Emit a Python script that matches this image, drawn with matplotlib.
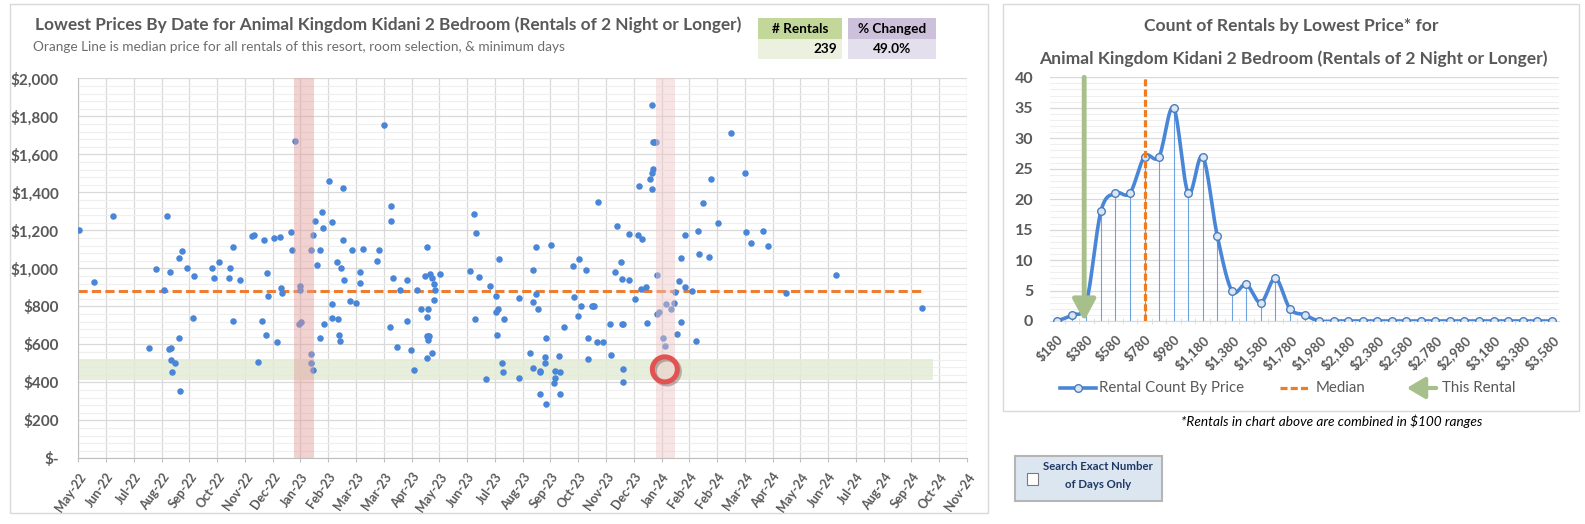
import numpy as np
import matplotlib
matplotlib.use("Agg")
import matplotlib.pyplot as plt
import matplotlib.patheffects as pe
from matplotlib.patches import Rectangle, FancyArrowPatch
from matplotlib.lines import Line2D
from matplotlib.ticker import MultipleLocator, FixedLocator, FuncFormatter

plt.rcParams['font.family'] = ['Lato', 'DejaVu Sans']

# ---------------- data ----------------
month_labels = ['May-22', 'Jun-22', 'Jul-22', 'Aug-22', 'Sep-22', 'Oct-22', 'Nov-22', 'Dec-22',
                'Jan-23', 'Feb-23', 'Mar-23', 'Mar-23', 'Apr-23', 'May-23', 'Jun-23', 'Jul-23',
                'Aug-23', 'Sep-23', 'Oct-23', 'Nov-23', 'Dec-23', 'Jan-24', 'Feb-24', 'Feb-24',
                'Mar-24', 'Apr-24', 'May-24', 'Jun-24', 'Jul-24', 'Aug-24', 'Sep-24', 'Oct-24',
                'Nov-24']

# rental date (in axis month steps from May-22) and lowest price
rental_month = [0.02, 0.58, 1.26, 2.55, 2.81, 3.09, 3.20, 3.31, 3.27, 3.32, 3.35, 3.49, 3.38, 3.67,
                3.63, 3.74, 3.63, 3.92, 4.14, 4.18, 4.82, 4.89, 5.07, 5.43, 5.47, 5.58, 5.58, 5.83,
                6.26, 6.31, 6.47, 6.62, 6.69, 6.76, 6.80, 6.83, 7.05, 7.16, 7.27, 7.30, 7.35, 7.66,
                7.70, 7.81, 7.99, 7.99, 7.95, 8.03, 8.38, 8.38, 8.38, 8.45, 8.45, 8.52, 8.60, 8.71,
                8.71, 8.78, 8.81, 8.85, 9.03, 9.14, 9.14, 9.14, 9.32, 9.35, 9.39, 9.42, 9.46, 9.53,
                9.53, 9.57, 9.78, 9.86, 10.00, 10.14, 10.14, 10.25, 10.76, 10.83, 11.01, 11.22,
                11.26, 11.26, 11.33, 11.47, 11.58, 11.83, 11.83, 11.98, 12.08, 12.19, 12.34, 12.48,
                12.55, 12.55, 12.55, 12.59, 12.59, 12.62, 12.59, 12.55, 12.66, 12.73, 12.73, 12.81,
                12.84, 12.81, 13.02, 14.10, 14.24, 14.32, 14.28, 14.42, 14.68, 14.82, 15.04, 15.07,
                15.04, 15.11, 15.14,
                15.25, 15.29, 15.33, 15.87, 15.87, 16.26, 16.37, 16.38, 16.37, 16.47, 16.47, 16.54,
                16.62, 16.63, 16.62, 16.80, 16.80, 16.84, 16.84, 17.02, 17.13, 17.16, 17.16, 17.30,
                17.34, 17.34, 17.48, 17.81, 17.84, 17.98, 18.02, 18.09, 18.27, 18.34, 18.34, 18.48,
                18.52, 18.56, 18.67, 18.71, 18.89, 19.14, 19.17, 19.32, 19.39, 19.53, 19.57, 19.57,
                19.60, 19.60, 19.60, 19.82, 19.82, 20.04, 20.14, 20.18, 20.25, 20.29, 20.43, 20.47,
                20.57, 20.65, 20.65, 20.68, 20.65, 20.68, 20.72, 20.79, 20.83, 20.83, 20.90, 21.05,
                21.12, 21.15, 21.33, 21.44, 21.47, 21.55, 21.62, 21.69, 21.69, 21.84, 21.84, 22.09,
                22.23, 22.30, 22.34, 22.48, 22.70, 22.77, 23.02, 23.49, 23.99, 24.06, 24.24, 24.64,
                24.82, 25.50, 27.27, 30.39]
rental_price = [1200, 926, 1274, 579, 995, 884, 1274, 979, 575, 579, 516, 500, 453, 353,
                1053, 1089, 632, 1000, 737, 958, 1000, 947, 1032, 947, 1000, 1111, 721, 937,
                1168, 1174, 505, 721, 1147, 647, 974, 853, 1158, 611, 1163, 895, 868, 1189,
                1095, 1668, 905, 884, 705, 716, 1095, 547, 500, 463, 1174, 1247, 1016, 1095,
                632, 1295, 1211, 705, 1458, 1242, 810, 737, 1032, 732, 647, 616, 1000, 1421,
                1147, 937, 826, 1095, 816, 979, 921, 1100, 1037, 1095, 1753, 689,
                1326, 1247, 947, 584, 884, 937, 721, 568, 463, 884, 784, 958,
                1111, 742, 642, 784, 642, 642, 621, 526, 968, 947, 553, 916,
                884, 832, 968, 984, 1284, 1184, 732, 953, 416, 905, 853, 647,
                768, 784, 1047,
                500, 453, 732, 842, 421, 553, 989, 474, 821, 1111, 863, 784,
                458, 453, 337, 532, 500, 632, 284, 1121, 395, 458, 421, 537,
                453, 337, 689, 1011, 847, 747, 1047, 800, 989, 632, 521, 800,
                800, 800, 611, 1347, 611, 705, 542, 979, 1221, 1032, 942, 705,
                705, 468, 400, 1179, 937, 837, 1174, 1432, 889, 1153, 900, 711,
                1468, 1858, 1500, 1521, 1416, 1663, 1663, 1663, 963, 758, 768, 632,
                589, 811, 784, 816, 874, 653, 932, 1053, 716, 900, 1174, 879,
                616, 1195, 1074, 1342, 1058, 1468, 1237, 1711, 1500, 1189, 1132, 1195,
                1116, 868, 963, 789]

median_price = 878
median_end_month = 30.46
this_rental_month = 21.12
this_rental_price = 468
low_band = (412, 521)
low_band_end_month = 30.78
highlight_spans = [(7.76, 8.47), (20.79, 21.49)]

n_rentals = '239'
pct_changed = '49.0%'

price_buckets = ['$180', '$280', '$380', '$480', '$580', '$680', '$780', '$880', '$980',
                 '$1,080', '$1,180', '$1,280', '$1,380', '$1,480', '$1,580', '$1,680',
                 '$1,780', '$1,880', '$1,980', '$2,080', '$2,180', '$2,280', '$2,380',
                 '$2,480', '$2,580', '$2,680', '$2,780', '$2,880', '$2,980', '$3,080',
                 '$3,180', '$3,280', '$3,380', '$3,480', '$3,580']
bucket_counts = [0, 1, 3, 18, 21, 21, 27, 27, 35, 21, 27, 14, 5, 6, 3, 7, 2, 1,
                 0, 0, 0, 0, 0, 0, 0, 0, 0, 0, 0, 0, 0, 0, 0, 0, 0]
median_bucket = 6
this_rental_bucket = 1.85

# ---------------- style ----------------
GREY = '#595959'
GRID = '#d9d9d9'
MINOR = '#efefef'
BLUE = '#4a86d8'
ORANGE = '#ED7D31'
GREEN = '#a7bf8a'

W, H = 1585, 524
fig = plt.figure(figsize=(W / 100, H / 100), dpi=100)


def fx(px):
    return px / W


def fy(py):
    return 1 - py / H


def frame(x0, y0, x1, y1, **kw):
    fig.add_artist(Rectangle((fx(x0), fy(y1)), fx(x1) - fx(x0), fy(y0) - fy(y1),
                             transform=fig.transFigure, **kw))


# panel frames
frame(10, 4, 988, 513, fill=False, ec=GRID, lw=1)
frame(1003, 4, 1579, 411, fill=False, ec=GRID, lw=1)

# ---------------- left chart ----------------
fig.text(fx(35), fy(25), 'Lowest Prices By Date for Animal Kingdom Kidani 2 Bedroom (Rentals of 2 Night or Longer)',
         fontsize=12.4, fontweight='bold', color=GREY, va='center')
fig.text(fx(33), fy(47), 'Orange Line is median price for all rentals of this resort, room selection, & minimum days',
         fontsize=9.8, color='#6d6d6d', va='center')

# summary boxes
frame(758, 18, 842, 39, color='#c4d79b', lw=0)
frame(758, 39, 842, 59, color='#ebf1de', lw=0)
frame(848, 18, 936, 39, color='#ccc0da', lw=0)
frame(848, 39, 936, 59, color='#e4dfec', lw=0)
fig.text(fx(800), fy(29), '# Rentals', ha='center', va='center', fontsize=9.8, fontweight='bold', color='black')
fig.text(fx(837), fy(49), n_rentals, ha='right', va='center', fontsize=9.8, fontweight='bold', color='black')
fig.text(fx(892), fy(29), '% Changed', ha='center', va='center', fontsize=9.8, fontweight='bold', color='black')
fig.text(fx(892), fy(49), pct_changed, ha='center', va='center', fontsize=9.8, fontweight='bold', color='black')

ax1 = fig.add_axes([fx(78.3), fy(458.3), fx(967) - fx(78.3), fy(78.3) - fy(458.3)])
ax1.set_xlim(0, 32)
ax1.set_ylim(0, 2000)
ax1.xaxis.set_major_locator(FixedLocator(range(len(month_labels))))
ax1.set_xticklabels(month_labels, rotation=55, ha='right', va='top', rotation_mode='anchor',
                    fontsize=9, fontweight='bold', color=GREY)
ax1.yaxis.set_major_locator(MultipleLocator(200))
ax1.yaxis.set_minor_locator(MultipleLocator(40))
ax1.yaxis.set_major_formatter(FuncFormatter(lambda v, _: '$-' if v == 0 else f'${v:,.0f}'))
for lab in ax1.get_yticklabels():
    lab.set_fontweight('bold')
ax1.tick_params(axis='y', which='both', length=0, labelsize=11, labelcolor=GREY, pad=14)
ax1.tick_params(axis='x', length=3, color='#bfbfbf', pad=6)
ax1.grid(which='major', color=GRID, lw=0.9)
ax1.grid(which='minor', axis='y', color=MINOR, lw=0.8)
ax1.set_axisbelow(True)
for s in ['top', 'right']:
    ax1.spines[s].set_visible(False)
for s in ['left', 'bottom']:
    ax1.spines[s].set_color('#bfbfbf')

ax1.fill_between([0, low_band_end_month], low_band[0], low_band[1], color='#e3ecd5', alpha=0.85, lw=0, zorder=1)
ax1.plot([0, median_end_month], [median_price, median_price], color=ORANGE, lw=2.2, dashes=(3, 1.4), zorder=2)
ax1.scatter(rental_month, rental_price, s=22, color=BLUE, lw=0, zorder=3)
ax1.axvspan(*highlight_spans[0], color='#e39a9a', alpha=0.45, lw=0, zorder=4)
ax1.axvspan(*highlight_spans[1], color='#efc4c4', alpha=0.45, lw=0, zorder=4)
ax1.plot(this_rental_month, this_rental_price, 'o', ms=18, mfc='none', mec='#e25252', mew=3.6, zorder=6,
         path_effects=[pe.SimpleLineShadow(offset=(1.5, -1.5), alpha=0.35, shadow_color='#444444'), pe.Normal()])

# ---------------- right chart ----------------
fig.text(fx(1291), fy(26), 'Count of Rentals by Lowest Price* for', ha='center', va='center',
         fontsize=12.6, fontweight='bold', color=GREY)
fig.text(fx(1293), fy(59), 'Animal Kingdom Kidani 2 Bedroom (Rentals of 2 Night or Longer)', ha='center', va='center',
         fontsize=12.6, fontweight='bold', color=GREY)

ax2 = fig.add_axes([fx(1050), fy(321), fx(1559) - fx(1050), fy(77.3) - fy(321)])
xpos = np.arange(len(bucket_counts))
y = np.asarray(bucket_counts, float)

# smoothed line (cardinal spline, like the spreadsheet "smoothed line")
tang = np.zeros_like(y)
tang[1:-1] = (y[2:] - y[:-2]) / 2
tang[0] = y[1] - y[0]
tang[-1] = y[-1] - y[-2]
t = np.linspace(0, 1, 16, endpoint=False)
h00 = 2 * t**3 - 3 * t**2 + 1
h10 = t**3 - 2 * t**2 + t
h01 = -2 * t**3 + 3 * t**2
h11 = t**3 - t**2
sx, sy = [], []
for i in range(len(y) - 1):
    sx.append(i + t)
    sy.append(h00 * y[i] + h10 * tang[i] + h01 * y[i + 1] + h11 * tang[i + 1])
sx = np.concatenate(sx + [[len(y) - 1]])
sy = np.concatenate(sy + [[y[-1]]])

ax2.set_xlim(-0.5, len(bucket_counts) - 0.5)
ax2.set_ylim(0, 40)
ax2.vlines(xpos, 0, y, color='#6fa3e0', lw=0.8, zorder=2)
ax2.plot(sx, sy, color=BLUE, lw=2.6, zorder=3, solid_capstyle='round')
ax2.plot(xpos, y, 'o', ms=5.5, mfc='#dbe5f4', mec='#4a7ebb', mew=1, zorder=4)
ax2.axvline(median_bucket, color='#EE7D22', lw=2.3, dashes=(2.2, 1.0), zorder=5)
ax2.annotate('', xy=(this_rental_bucket, 0), xytext=(this_rental_bucket, 40),
             arrowprops=dict(arrowstyle='-|>,head_length=1.3,head_width=0.7', color=GREEN, lw=3.5,
                             shrinkA=0, shrinkB=0), zorder=6)

ax2.xaxis.set_major_locator(FixedLocator(xpos[::2]))
ax2.set_xticklabels(price_buckets[::2], rotation=45, ha='right', va='top', rotation_mode='anchor',
                    fontsize=9.6, fontweight='bold', color=GREY)
ax2.xaxis.set_minor_locator(FixedLocator(xpos[:-1] + 0.5))
ax2.tick_params(axis='x', which='major', length=0, pad=9)
ax2.tick_params(axis='x', which='minor', length=5, direction='inout', color=GRID)
ax2.yaxis.set_major_locator(MultipleLocator(5))
ax2.yaxis.set_minor_locator(MultipleLocator(1))
ax2.tick_params(axis='y', which='both', length=0, labelsize=11.5, labelcolor=GREY, pad=12)
for lab in ax2.get_yticklabels():
    lab.set_fontweight('bold')
ax2.grid(which='major', axis='y', color=GRID, lw=0.9)
ax2.grid(which='minor', axis='y', color=MINOR, lw=0.8)
ax2.set_axisbelow(True)
for s in ['top', 'right', 'left']:
    ax2.spines[s].set_visible(False)
ax2.spines['bottom'].set_color(GRID)

# legend (drawn by hand to match the layout)
ly = fy(388)
fig.add_artist(Line2D([fx(1060), fx(1096)], [ly, ly], transform=fig.transFigure, color=BLUE, lw=2.6))
fig.add_artist(Line2D([fx(1078)], [ly], transform=fig.transFigure, marker='o', ms=5.5,
                      mfc='#dbe5f4', mec='#4a7ebb', mew=1))
fig.text(fx(1099), ly, 'Rental Count By Price', va='center', fontsize=10.8, color=GREY)
fig.add_artist(Line2D([fx(1280), fx(1310)], [ly, ly], transform=fig.transFigure, color='#EE7D22',
                      lw=2.3, dashes=(2.2, 1.0)))
fig.text(fx(1316), ly, 'Median', va='center', fontsize=10.8, color=GREY)
fig.add_artist(FancyArrowPatch((fx(1439), ly), (fx(1404), ly), transform=fig.transFigure,
                               arrowstyle='-|>,head_length=1.1,head_width=0.65', mutation_scale=10,
                               color=GREEN, lw=3))
fig.text(fx(1442), ly, 'This Rental', va='center', fontsize=10.8, color=GREY)

fig.text(fx(1332), fy(421), '*Rentals in chart above are combined in $100 ranges', ha='center', va='center',
         fontsize=9.8, style='italic', color='black')

# check box control
frame(1015, 456, 1162, 501, fc='#dce6f1', ec='#b5b5b5', lw=1.5)
frame(1027, 473, 1038, 485, fc='white', ec='#7a7a7a', lw=0.8)
fig.text(fx(1098), fy(466), 'Search Exact Number', ha='center', va='center', fontsize=8.2,
         fontweight='bold', color='#1f3864')
fig.text(fx(1098), fy(485), 'of Days Only', ha='center', va='center', fontsize=8.2,
         fontweight='bold', color='#1f3864')

fig.savefig('out.png', dpi=100, facecolor='white')
